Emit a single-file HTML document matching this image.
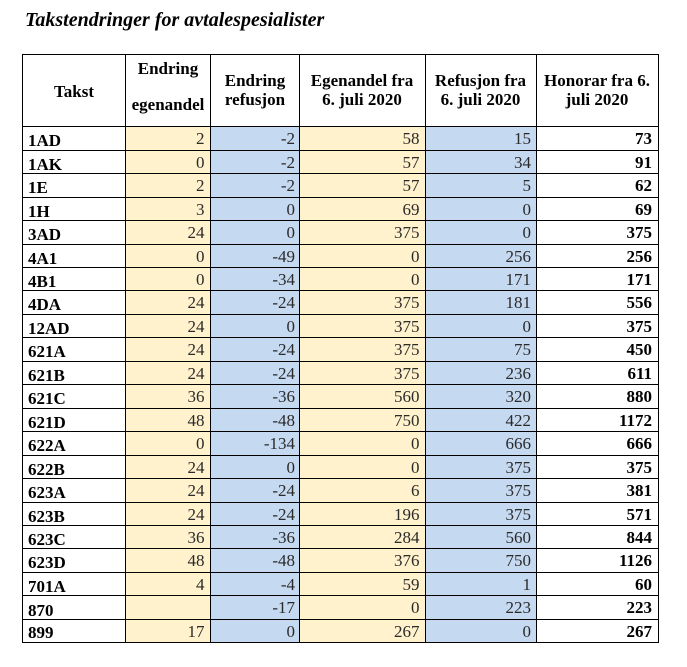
<!DOCTYPE html>
<html><head><meta charset="utf-8"><style>
html,body{margin:0;padding:0;background:#fff;width:687px;height:667px;overflow:hidden}
svg{display:block}
text{font-family:"Liberation Serif","Times New Roman",serif;font-size:17px}
.t{font-size:20px;font-weight:bold;font-style:italic;fill:#000}
.h{font-weight:bold;fill:#000;text-anchor:middle}
.l{font-weight:bold;fill:#000}
.n{fill:#2a2a2a;text-anchor:end}
.b{font-weight:bold;fill:#000;text-anchor:end}
</style></head><body>
<svg width="687" height="667" viewBox="0 0 687 667" xmlns="http://www.w3.org/2000/svg">
<rect x="0" y="0" width="687" height="667" fill="#fff"/>
<text class="t" x="25" y="26">Takstendringer for avtalespesialister</text>
<!-- fills -->
<rect x="125" y="126" width="86" height="516" fill="#FFF2CC"/>
<rect x="211" y="126" width="88" height="516" fill="#C5D9F1"/>
<rect x="299" y="126" width="126" height="516" fill="#FFF2CC"/>
<rect x="425" y="126" width="111" height="516" fill="#C5D9F1"/>
<!-- vertical lines -->
<g fill="#000">
<rect x="22" y="54" width="1" height="589"/>
<rect x="125" y="54" width="1" height="589"/>
<rect x="210" y="54" width="1" height="589"/>
<rect x="299" y="54" width="1" height="589"/>
<rect x="425" y="54" width="1" height="589"/>
<rect x="536" y="54" width="1" height="589"/>
<rect x="658" y="54" width="1" height="589"/>
<!-- horizontal lines -->
<rect x="22" y="54" width="637" height="1"/>
<rect x="22" y="126" width="637" height="1"/>
<rect x="22" y="150" width="637" height="1"/>
<rect x="22" y="173" width="637" height="1"/>
<rect x="22" y="197" width="637" height="1"/>
<rect x="22" y="220" width="637" height="1"/>
<rect x="22" y="244" width="637" height="1"/>
<rect x="22" y="267" width="637" height="1"/>
<rect x="22" y="290" width="637" height="1"/>
<rect x="22" y="314" width="637" height="1"/>
<rect x="22" y="337" width="637" height="1"/>
<rect x="22" y="361" width="637" height="1"/>
<rect x="22" y="384" width="637" height="1"/>
<rect x="22" y="408" width="637" height="1"/>
<rect x="22" y="431" width="637" height="1"/>
<rect x="22" y="455" width="637" height="1"/>
<rect x="22" y="478" width="637" height="1"/>
<rect x="22" y="502" width="637" height="1"/>
<rect x="22" y="525" width="637" height="1"/>
<rect x="22" y="548" width="637" height="1"/>
<rect x="22" y="572" width="637" height="1"/>
<rect x="22" y="595" width="637" height="1"/>
<rect x="22" y="619" width="637" height="1"/>
<rect x="22" y="642" width="637" height="1"/>
</g>
<!-- header -->
<text class="h" x="74" y="97">Takst</text>
<text class="h" x="168" y="74">Endring</text>
<text class="h" x="168" y="110">egenandel</text>
<text class="h" x="255" y="86">Endring</text>
<text class="h" x="255" y="105">refusjon</text>
<text class="h" x="362" y="86">Egenandel fra</text>
<text class="h" x="362" y="105">6. juli 2020</text>
<text class="h" x="480.5" y="86">Refusjon fra</text>
<text class="h" x="480.5" y="105">6. juli 2020</text>
<text class="h" x="597" y="86">Honorar fra 6.</text>
<text class="h" x="597" y="105">juli 2020</text>

<!-- rows: label baseline = L+20, numbers baseline = L+18 -->
<g>
<text class="l" x="28" y="146">1AD</text><text class="n" x="204.5" y="144">2</text><text class="n" x="295" y="144">-2</text><text class="n" x="419.5" y="144">58</text><text class="n" x="531" y="144">15</text><text class="b" x="652" y="144">73</text>
<text class="l" x="28" y="170">1AK</text><text class="n" x="204.5" y="168">0</text><text class="n" x="295" y="168">-2</text><text class="n" x="419.5" y="168">57</text><text class="n" x="531" y="168">34</text><text class="b" x="652" y="168">91</text>
<text class="l" x="28" y="193">1E</text><text class="n" x="204.5" y="191">2</text><text class="n" x="295" y="191">-2</text><text class="n" x="419.5" y="191">57</text><text class="n" x="531" y="191">5</text><text class="b" x="652" y="191">62</text>
<text class="l" x="28" y="217">1H</text><text class="n" x="204.5" y="215">3</text><text class="n" x="295" y="215">0</text><text class="n" x="419.5" y="215">69</text><text class="n" x="531" y="215">0</text><text class="b" x="652" y="215">69</text>
<text class="l" x="28" y="240">3AD</text><text class="n" x="204.5" y="238">24</text><text class="n" x="295" y="238">0</text><text class="n" x="419.5" y="238">375</text><text class="n" x="531" y="238">0</text><text class="b" x="652" y="238">375</text>
<text class="l" x="28" y="264">4A1</text><text class="n" x="204.5" y="262">0</text><text class="n" x="295" y="262">-49</text><text class="n" x="419.5" y="262">0</text><text class="n" x="531" y="262">256</text><text class="b" x="652" y="262">256</text>
<text class="l" x="28" y="287">4B1</text><text class="n" x="204.5" y="285">0</text><text class="n" x="295" y="285">-34</text><text class="n" x="419.5" y="285">0</text><text class="n" x="531" y="285">171</text><text class="b" x="652" y="285">171</text>
<text class="l" x="28" y="310">4DA</text><text class="n" x="204.5" y="308">24</text><text class="n" x="295" y="308">-24</text><text class="n" x="419.5" y="308">375</text><text class="n" x="531" y="308">181</text><text class="b" x="652" y="308">556</text>
<text class="l" x="28" y="334">12AD</text><text class="n" x="204.5" y="332">24</text><text class="n" x="295" y="332">0</text><text class="n" x="419.5" y="332">375</text><text class="n" x="531" y="332">0</text><text class="b" x="652" y="332">375</text>
<text class="l" x="28" y="357">621A</text><text class="n" x="204.5" y="355">24</text><text class="n" x="295" y="355">-24</text><text class="n" x="419.5" y="355">375</text><text class="n" x="531" y="355">75</text><text class="b" x="652" y="355">450</text>
<text class="l" x="28" y="381">621B</text><text class="n" x="204.5" y="379">24</text><text class="n" x="295" y="379">-24</text><text class="n" x="419.5" y="379">375</text><text class="n" x="531" y="379">236</text><text class="b" x="652" y="379">611</text>
<text class="l" x="28" y="404">621C</text><text class="n" x="204.5" y="402">36</text><text class="n" x="295" y="402">-36</text><text class="n" x="419.5" y="402">560</text><text class="n" x="531" y="402">320</text><text class="b" x="652" y="402">880</text>
<text class="l" x="28" y="428">621D</text><text class="n" x="204.5" y="426">48</text><text class="n" x="295" y="426">-48</text><text class="n" x="419.5" y="426">750</text><text class="n" x="531" y="426">422</text><text class="b" x="652" y="426">1172</text>
<text class="l" x="28" y="451">622A</text><text class="n" x="204.5" y="449">0</text><text class="n" x="295" y="449">-134</text><text class="n" x="419.5" y="449">0</text><text class="n" x="531" y="449">666</text><text class="b" x="652" y="449">666</text>
<text class="l" x="28" y="475">622B</text><text class="n" x="204.5" y="473">24</text><text class="n" x="295" y="473">0</text><text class="n" x="419.5" y="473">0</text><text class="n" x="531" y="473">375</text><text class="b" x="652" y="473">375</text>
<text class="l" x="28" y="498">623A</text><text class="n" x="204.5" y="496">24</text><text class="n" x="295" y="496">-24</text><text class="n" x="419.5" y="496">6</text><text class="n" x="531" y="496">375</text><text class="b" x="652" y="496">381</text>
<text class="l" x="28" y="522">623B</text><text class="n" x="204.5" y="520">24</text><text class="n" x="295" y="520">-24</text><text class="n" x="419.5" y="520">196</text><text class="n" x="531" y="520">375</text><text class="b" x="652" y="520">571</text>
<text class="l" x="28" y="545">623C</text><text class="n" x="204.5" y="543">36</text><text class="n" x="295" y="543">-36</text><text class="n" x="419.5" y="543">284</text><text class="n" x="531" y="543">560</text><text class="b" x="652" y="543">844</text>
<text class="l" x="28" y="568">623D</text><text class="n" x="204.5" y="566">48</text><text class="n" x="295" y="566">-48</text><text class="n" x="419.5" y="566">376</text><text class="n" x="531" y="566">750</text><text class="b" x="652" y="566">1126</text>
<text class="l" x="28" y="592">701A</text><text class="n" x="204.5" y="590">4</text><text class="n" x="295" y="590">-4</text><text class="n" x="419.5" y="590">59</text><text class="n" x="531" y="590">1</text><text class="b" x="652" y="590">60</text>
<text class="l" x="28" y="616">870</text><text class="n" x="295" y="613">-17</text><text class="n" x="419.5" y="613">0</text><text class="n" x="531" y="613">223</text><text class="b" x="652" y="613">223</text>
<text class="l" x="28" y="638">899</text><text class="n" x="204.5" y="637">17</text><text class="n" x="295" y="637">0</text><text class="n" x="419.5" y="637">267</text><text class="n" x="531" y="637">0</text><text class="b" x="652" y="637">267</text>
</g>
</svg>
</body></html>
